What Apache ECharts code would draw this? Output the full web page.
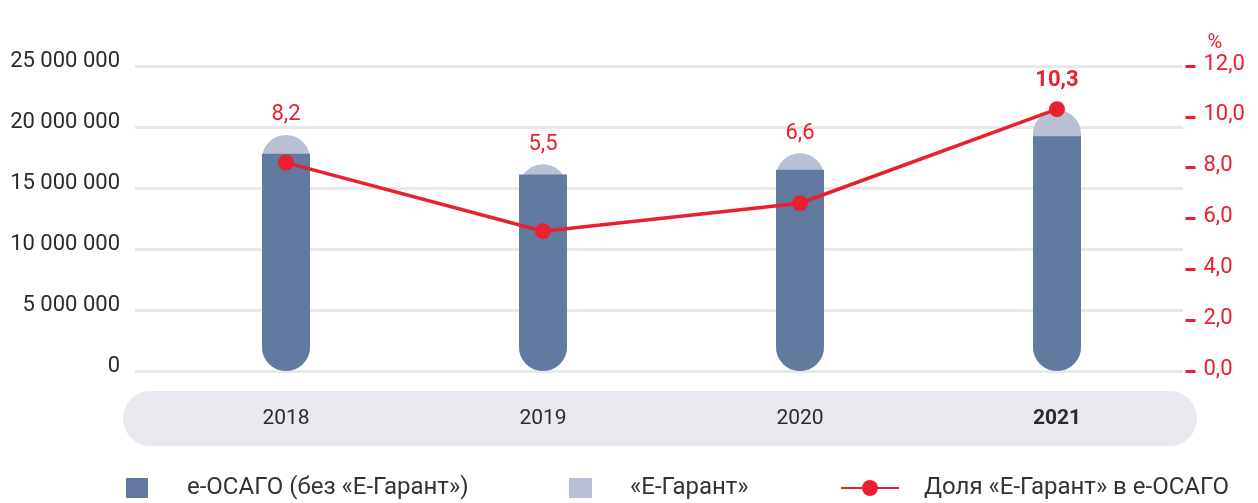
<!DOCTYPE html>
<html>
<head>
<meta charset="utf-8">
<script src="https://cdn.jsdelivr.net/npm/echarts@6/dist/echarts.min.js"></script>
<style>
html,body{margin:0;padding:0;background:#fff;}
#chart{width:1258px;height:503px;}
</style>
</head>
<body>
<div id="chart"></div>
<script>
const categories = ['2018', '2019', '2020', '2021'];
const eosagoWithoutEG = [17800000, 16100000, 16500000, 19250000];
const eGarant = [1550000, 850000, 1350000, 2150000];
const eGarantShare = [8.2, 5.5, 6.6, 10.3];
const leftTicks = { min: 0, max: 25000000, interval: 5000000 };
const rightTicks = { min: 0, max: 12, interval: 2 };

const names = ['е-ОСАГО (без «Е-Гарант»)', '«Е-Гарант»', 'Доля «Е-Гарант» в е-ОСАГО'];
const DARK = '#627a9f', LIGHT = '#b9c0d4', RED = '#e8202f', TEXT = '#2b2b2b';
const FONT = 'Roboto';

const totals = eosagoWithoutEG.map((v, i) => v + eGarant[i]);
const fmtSpace = v => String(v).replace(/\B(?=(\d{3})+(?!\d))/g, ' ');
const fmtComma = v => v.toFixed(1).replace('.', ',');

const chart = echarts.init(document.getElementById('chart'), null, { renderer: 'canvas' });

const GRID_TOP = 66, GRID_BOTTOM = 132;
const legendText = pad => ({ fontSize: 24, color: '#333', fontFamily: FONT, padding: [0, 0, 0, pad] });

const option = {
  animation: false,
  textStyle: { fontFamily: FONT },
  graphic: [{
    type: 'rect', z: -10,
    shape: { x: 123, y: 391, width: 1074, height: 55, r: 27.5 },
    style: { fill: '#e8e9ef' }
  }],
  grid: [
    { left: 135, right: 75, top: GRID_TOP, bottom: GRID_BOTTOM },
    { left: 157.5, right: 72.5, top: GRID_TOP, bottom: GRID_BOTTOM }
  ],
  legend: [
    { data: [{ name: names[0], icon: 'rect' }], left: 126, top: 476, padding: 0, itemWidth: 22, itemHeight: 20, itemGap: 0,
      textStyle: legendText(34) },
    { data: [{ name: names[1], icon: 'rect' }], left: 569, top: 476, padding: 0, itemWidth: 23, itemHeight: 20, itemGap: 0,
      textStyle: legendText(33) },
    { data: [names[2]], left: 840, top: 476, padding: 0, itemWidth: 58, itemHeight: 20, itemGap: 0,
      textStyle: legendText(20) }
  ],
  xAxis: [
    { type: 'category', gridIndex: 0, data: categories, show: false },
    { type: 'category', gridIndex: 1, data: categories,
      axisLine: { show: false }, axisTick: { show: false },
      axisLabel: {
        margin: 48, verticalAlign: 'middle', fontSize: 21, color: TEXT, fontFamily: FONT,
        formatter: v => v === categories[categories.length - 1] ? '{b|' + v + '}' : v,
        rich: { b: { fontSize: 21, fontWeight: 'bold', color: TEXT, fontFamily: FONT } }
      } }
  ],
  yAxis: [
    { type: 'value', gridIndex: 0, min: leftTicks.min, max: leftTicks.max, interval: leftTicks.interval,
      axisLine: { show: false }, axisTick: { show: false },
      splitLine: { show: true, lineStyle: { color: '#e8e8e8', width: 3 } },
      axisLabel: { margin: 15, fontSize: 22, color: TEXT, fontFamily: FONT,
        verticalAlign: 'bottom', lineHeight: 10, formatter: fmtSpace } },
    { type: 'value', gridIndex: 1, min: leftTicks.min, max: leftTicks.max, interval: leftTicks.interval,
      show: false, splitLine: { show: false } },
    { type: 'value', gridIndex: 1, position: 'right', min: rightTicks.min, max: rightTicks.max, interval: rightTicks.interval,
      name: '%', nameLocation: 'end', nameGap: 9,
      nameTextStyle: { color: RED, fontSize: 20, fontFamily: FONT, align: 'left', verticalAlign: 'bottom',
        lineHeight: 20, padding: [0, 0, 0, 22] },
      axisLine: { show: false },
      axisTick: { show: true, inside: false, length: 10, lineStyle: { color: RED, width: 3 } },
      splitLine: { show: false },
      axisLabel: { margin: 18, fontSize: 22, color: RED, fontFamily: FONT,
        verticalAlign: 'bottom', lineHeight: 4, formatter: fmtComma } }
  ],
  series: [
    { name: names[1], type: 'bar', xAxisIndex: 1, yAxisIndex: 1, barWidth: 48, z: 1,
      itemStyle: { color: LIGHT, borderRadius: 24 },
      data: totals.map((v, i) => {
        const last = i === totals.length - 1;
        return {
          value: v,
          label: {
            show: true, position: 'top', distance: last ? 18 : 9, fontSize: 22, color: RED, fontFamily: FONT,
            fontWeight: last ? 'bold' : 'normal',
            formatter: () => fmtComma(eGarantShare[i])
          }
        };
      }) },
    { name: names[0], type: 'bar', xAxisIndex: 1, yAxisIndex: 1, barWidth: 48, barGap: '-100%', z: 2,
      itemStyle: { color: DARK, borderRadius: [0, 0, 24, 24] },
      data: eosagoWithoutEG },
    { name: names[2], type: 'line', xAxisIndex: 1, yAxisIndex: 2, z: 5,
      symbol: 'circle', symbolSize: 16,
      lineStyle: { color: RED, width: 3.5 },
      itemStyle: { color: RED },
      data: eGarantShare }
  ]
};
chart.setOption(option);
</script>
</body>
</html>
